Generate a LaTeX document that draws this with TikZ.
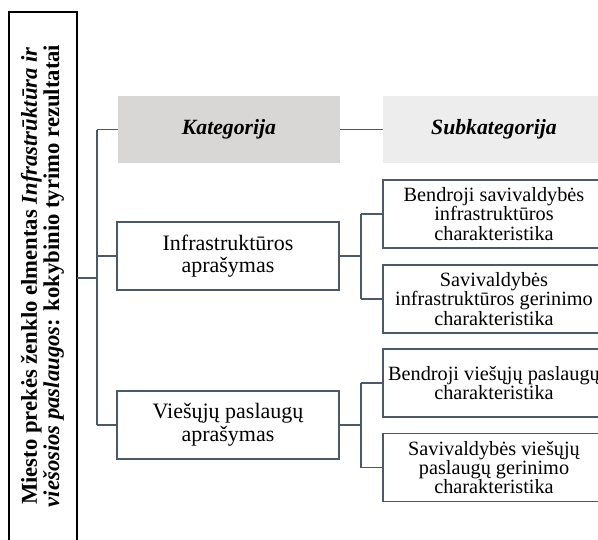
\documentclass[tikz,border=0pt]{standalone}
\usepackage{fontspec}
\setmainfont{Liberation Serif}
\definecolor{linkc}{HTML}{4A5A6C}
\definecolor{hdrA}{HTML}{D8D7D5}
\definecolor{hdrB}{HTML}{EDEDED}
\begin{document}
\begin{tikzpicture}[x=0.75pt,y=-0.75pt,
  catbox/.style={draw=linkc,line width=1pt,fill=white,minimum width=166.5pt,minimum height=51pt,
    align=center,inner sep=0pt,font=\fontsize{16.5}{17}\selectfont},
  subbox/.style={draw=linkc,line width=1pt,fill=white,minimum width=166.5pt,minimum height=51pt,
    align=center,inner sep=0pt,font=\fontsize{15.2}{14.4}\selectfont},
  hdrbox/.style={minimum width=166.5pt,minimum height=50pt,inner sep=0pt,
    font=\fontsize{16.3}{18}\selectfont\bfseries\itshape},
  link/.style={draw=linkc,line width=1.1pt}]
\useasboundingbox (0,0) rectangle (598,539);
\clip (0,0) rectangle (598,539);

% title frame with vertical caption
\draw[black,line width=0.8pt] (9,12) rectangle (77,560);
\node[rotate=90,align=center,inner sep=0pt,font=\fontsize{17}{13.5}\selectfont\bfseries] (title) at (42.5,276)
  {Miesto prekės ženklo elmentas \textit{Infrastrūktūra ir}\\
   \textit{viešosios paslaugos}: kokybinio tyrimo rezultatai};
\coordinate (tout) at (77,278);
\coordinate (spine) at (97,278);

% column headers
\node[hdrbox,fill=hdrA] (cat) at (229,129.5) {Kategorija};
\node[hdrbox,fill=hdrB] (sub) at (494,129.5) {Subkategorija};

% categories
\node[catbox] (infra) at (228,256) {Infrastruktūros\\aprašymas};
\node[catbox] (pasl) at (228,425) {Viešųjų paslaugų\\aprašymas};

% subcategories
\node[subbox] (s1) at (494,214) {Bendroji savivaldybės\\infrastruktūros\\charakteristika};
\node[subbox] (s2) at (494,299) {Savivaldybės\\infrastruktūros gerinimo\\charakteristika};
\node[subbox] (s3) at (494,383) {Bendroji viešųjų paslaugų\\charakteristika};
\node[subbox] (s4) at (494,467.5) {Savivaldybės viešųjų\\paslaugų gerinimo\\charakteristika};

% connectors
\draw[link] (tout) -- (spine);
\draw[link] (spine |- cat.west) -- (spine |- pasl.west);
\draw[link] (spine |- cat.west) -- (cat.west);
\draw[link] (spine |- infra.west) -- (infra.west);
\draw[link] (spine |- pasl.west) -- (pasl.west);
\draw[link] (cat.east) -- (sub.west);

\coordinate (b1) at (361,256);
\draw[link] (infra.east) -- (b1);
\draw[link] (b1 |- s1.west) -- (b1 |- s2.west);
\draw[link] (b1 |- s1.west) -- (s1.west);
\draw[link] (b1 |- s2.west) -- (s2.west);

\coordinate (b2) at (361,425);
\draw[link] (pasl.east) -- (b2);
\draw[link] (b2 |- s3.west) -- (b2 |- s4.west);
\draw[link] (b2 |- s3.west) -- (s3.west);
\draw[link] (b2 |- s4.west) -- (s4.west);
\end{tikzpicture}
\end{document}
